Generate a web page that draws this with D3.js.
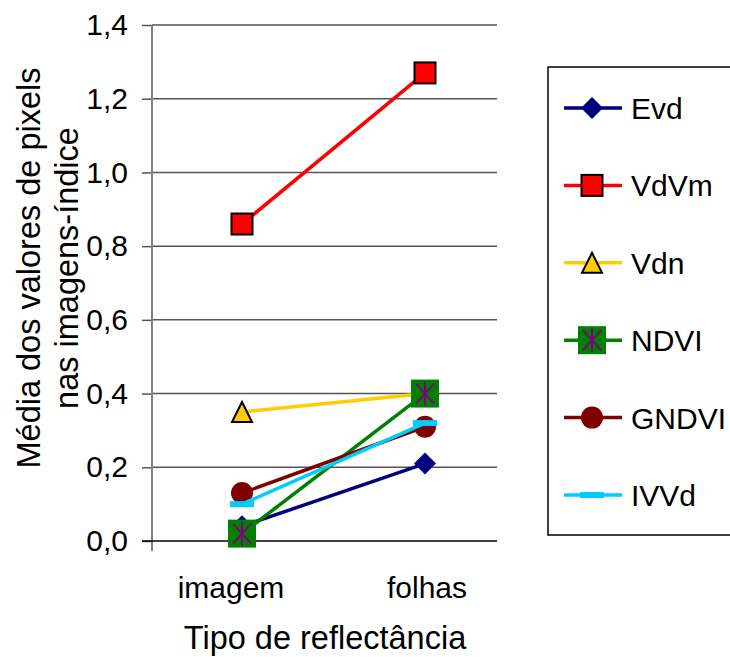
<!DOCTYPE html>
<html>
<head>
<meta charset="utf-8">
<script src="https://cdn.jsdelivr.net/npm/d3@7"></script>
<style>
  html, body { margin: 0; padding: 0; background: #fff; }
  svg { display: block; font-family: Arial, "Liberation Sans", sans-serif; }
</style>
</head>
<body>
<svg id="chart" width="730" height="657"></svg>
<script>
// Categories along the x axis
const categories = ["imagem", "folhas"];

// Mean pixel values of each index image
const evd   = [0.04, 0.21];
const vdvm  = [0.86, 1.27];
const vdn   = [0.35, 0.40];
const ndvi  = [0.02, 0.40];
const gndvi = [0.13, 0.31];
const ivvd  = [0.10, 0.32];

const seriesNames = ["Evd", "VdVm", "Vdn", "NDVI", "GNDVI", "IVVd"];
const yTicks = [0, 0.2, 0.4, 0.6, 0.8, 1.0, 1.2, 1.4];

const series = [
  { name: "Evd",   values: evd,   color: "#000080", marker: "diamond" },
  { name: "VdVm",  values: vdvm,  color: "#FF0000", marker: "square" },
  { name: "Vdn",   values: vdn,   color: "#FFCC00", marker: "triangle" },
  { name: "NDVI",  values: ndvi,  color: "#008000", marker: "star" },
  { name: "GNDVI", values: gndvi, color: "#800000", marker: "circle" },
  { name: "IVVd",  values: ivvd,  color: "#00CCFF", marker: "dash" }
];

const svg = d3.select("#chart");
const plot = { left: 152, right: 497, top: 25, bottom: 541 };

const x = d3.scalePoint()
  .domain(categories)
  .range([plot.left + 90, plot.right - 72]);

const y = d3.scaleLinear()
  .domain([0, 1.4])
  .range([plot.bottom, plot.top]);

const fmt = v => d3.format(".1f")(v).replace(".", ",");

// Horizontal gridlines
svg.append("g")
  .selectAll("line")
  .data(yTicks.filter(t => t > 0))
  .join("line")
  .attr("x1", plot.left).attr("x2", plot.right)
  .attr("y1", d => y(d)).attr("y2", d => y(d))
  .attr("stroke", "#555").attr("stroke-width", 1.5);

// Y axis
const yAxis = d3.axisLeft(y)
  .tickValues(yTicks)
  .tickFormat(fmt)
  .tickSize(10)
  .tickPadding(14);
const gy = svg.append("g")
  .attr("transform", `translate(${plot.left},0)`)
  .call(yAxis);
gy.select(".domain").remove();
gy.selectAll(".tick line").attr("stroke", "#555").attr("stroke-width", 1.5);
gy.selectAll(".tick text")
  .attr("font-size", 30)
  .attr("font-family", "Arial, 'Liberation Sans', sans-serif")
  .attr("fill", "#000");
svg.append("line")
  .attr("x1", plot.left).attr("x2", plot.left)
  .attr("y1", plot.top).attr("y2", plot.bottom + 10)
  .attr("stroke", "#808080").attr("stroke-width", 2);

// X axis baseline
svg.append("line")
  .attr("x1", plot.left - 10).attr("x2", plot.right)
  .attr("y1", y(0)).attr("y2", y(0))
  .attr("stroke", "#000").attr("stroke-width", 1.5);

// Category labels
svg.append("g")
  .selectAll("text")
  .data(categories)
  .join("text")
  .attr("x", (d, i) => x(d) + (i === 0 ? -11 : 2))
  .attr("y", 598)
  .attr("text-anchor", "middle")
  .attr("font-size", 30)
  .text(d => d);

// Axis titles
svg.append("text")
  .attr("x", 325).attr("y", 649)
  .attr("text-anchor", "middle")
  .attr("font-size", 32.5)
  .text("Tipo de reflectância");

const yTitle = svg.append("text")
  .attr("transform", "translate(0,268) rotate(-90)")
  .attr("text-anchor", "middle")
  .attr("font-size", 32.5);
yTitle.append("tspan").attr("x", 0).attr("y", 40).text("Média dos valores de pixels");
yTitle.append("tspan").attr("x", 0).attr("y", 78).text("nas imagens-índice");

// Marker drawing
function drawMarker(g, type, color) {
  switch (type) {
    case "diamond":
      g.append("path").attr("d", "M0,-11L11,0L0,11L-11,0Z").attr("fill", color);
      break;
    case "square":
      g.append("rect").attr("x", -10.5).attr("y", -10.5).attr("width", 21).attr("height", 21)
        .attr("fill", color).attr("stroke", "#000").attr("stroke-width", 2);
      break;
    case "triangle":
      g.append("path").attr("d", "M0,-10L10,10L-10,10Z")
        .attr("fill", color).attr("stroke", "#000").attr("stroke-width", 2)
        .attr("stroke-linejoin", "miter");
      break;
    case "star":
      g.append("rect").attr("x", -14).attr("y", -14).attr("width", 28).attr("height", 28)
        .attr("fill", color);
      g.append("path").attr("d", "M0,-12L0,12M-9,-10L9,10M9,-10L-9,10")
        .attr("stroke", "#800080").attr("stroke-width", 2);
      break;
    case "circle":
      g.append("circle").attr("r", 11).attr("fill", color);
      break;
    case "dash":
      g.append("rect").attr("x", -12).attr("y", -3).attr("width", 24).attr("height", 6)
        .attr("fill", color);
      break;
  }
}

const line = d3.line()
  .x((d, i) => x(categories[i]))
  .y(d => y(d));

// Series lines and markers
series.forEach(s => {
  const g = svg.append("g");
  g.append("path")
    .attr("d", line(s.values))
    .attr("fill", "none")
    .attr("stroke", s.color)
    .attr("stroke-width", 3.5);
  s.values.forEach((v, i) => {
    const m = g.append("g").attr("transform", `translate(${x(categories[i])},${y(v)})`);
    drawMarker(m, s.marker, s.color);
  });
});

// Legend
const legend = svg.append("g");
legend.append("rect")
  .attr("x", 548).attr("y", 67).attr("width", 200).attr("height", 468)
  .attr("fill", "#fff").attr("stroke", "#000").attr("stroke-width", 1.5);

const legendY = d3.scalePoint()
  .domain(seriesNames)
  .range([108, 495]);

series.forEach(s => {
  const cy = legendY(s.name);
  const row = legend.append("g");
  row.append("line")
    .attr("x1", 564).attr("x2", 622)
    .attr("y1", cy).attr("y2", cy)
    .attr("stroke", s.color).attr("stroke-width", 3.5);
  const m = row.append("g").attr("transform", `translate(592,${cy})`);
  drawMarker(m, s.marker, s.color);
  row.append("text")
    .attr("x", 631).attr("y", cy + 11)
    .attr("font-size", 30)
    .text(s.name);
});
</script>
</body>
</html>
